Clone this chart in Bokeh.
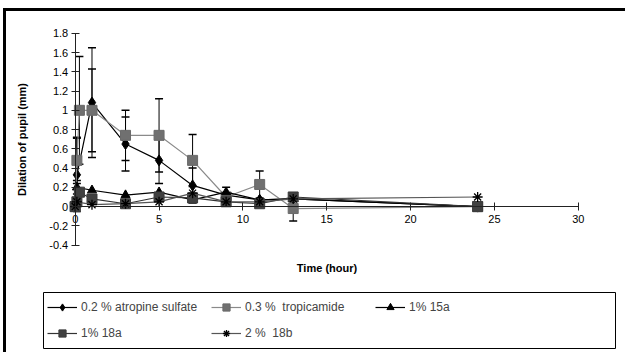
from bokeh.plotting import figure
from bokeh.models import (Whisker, TeeHead, ColumnDataSource, Legend, LegendItem,
                          FixedTicker, BoxAnnotation)
from bokeh.embed import file_html
from bokeh.resources import INLINE

# ---- data ----
t_main = [0, 0.1, 0.25, 1, 3, 5, 7, 9, 11, 13, 24]
t_short = [0, 0.1, 1, 3, 5, 7, 9, 11, 13, 24]

atropine = [0, 0.33, 1.08, 0.65, 0.48, 0.22, 0.12, 0.07, 0.08, 0.0]
atropine_err = [0, 0.38, 0.57, 0.28, 0.24, 0.18, 0, 0, 0, 0]

tropicamide = [0, 0.48, 1.0, 1.0, 0.74, 0.74, 0.48, 0.10, 0.23, -0.02, 0.0]
tropicamide_err = [0, 0.24, 0.56, 0.43, 0.26, 0.38, 0.27, 0, 0.14, 0.13, 0]

c15a = [0, 0.2, 0.17, 0.12, 0.15, 0.07, 0.15, 0.07, 0.08, 0.0]
c15a_err = [0, 0.07, 0, 0, 0, 0, 0.05, 0, 0, 0]

c18a = [0, 0.05, 0.15, 0.08, 0.03, 0.10, 0.09, 0.05, 0.03, 0.10, 0.0]
c18a_err = [0, 0, 0, 0, 0, 0, 0.05, 0, 0, 0, 0]

c18b = [0, 0.05, 0.02, 0.03, 0.05, 0.14, 0.05, 0.05, 0.08, 0.10]

labels = ["0.2 % atropine sulfate", "0.3 %  tropicamide", "1% 15a", "1% 18a", "2 %  18b"]

x_ticks = [0, 5, 10, 15, 20, 25, 30]
y_ticks = [-0.4, -0.2, 0, 0.2, 0.4, 0.6, 0.8, 1.0, 1.2, 1.4, 1.6, 1.8]
y_tick_labels = ["-0.4", "-0.2", "0", "0.2", "0.4", "0.6", "0.8", "1", "1.2", "1.4", "1.6", "1.8"]

FONT = "Liberation Sans"

# The frame covers nearly the whole canvas; axes sit at x=0 / y=0 with bounds.
p = figure(frame_width=608, frame_height=325, x_range=(-3.8, 32.46), y_range=(-1.515, 1.86),
           output_backend="svg", toolbar_location=None,
           min_border_left=5, min_border_top=16, min_border_right=6, min_border_bottom=0)
p.styles = {"border-left": "3px solid black", "border-top": "3px solid black",
            "margin-left": "3px", "margin-top": "8px"}
p.grid.visible = False
p.outline_line_color = None
p.background_fill_color = "white"

# axes
p.xaxis.fixed_location = 0
p.yaxis.fixed_location = 0
p.xaxis.bounds = (0, 30)
p.yaxis.bounds = (-0.4, 1.8)
p.xaxis.ticker = FixedTicker(ticks=x_ticks)
p.yaxis.ticker = FixedTicker(ticks=y_ticks)
p.yaxis.major_label_overrides = {v: s for v, s in zip(y_ticks, y_tick_labels)}
for ax in (p.xaxis[0], p.yaxis[0]):
    ax.major_tick_in = 4
    ax.major_tick_out = 4
    ax.minor_tick_line_color = None
    ax.axis_line_color = "#222222"
    ax.major_tick_line_color = "#222222"
    ax.major_label_text_font = FONT
    ax.major_label_text_font_size = "11px"
    ax.major_label_text_color = "black"
    ax.axis_label_text_font = FONT
    ax.axis_label_text_font_size = "11px"
    ax.axis_label_text_font_style = "bold"
    ax.axis_label_text_color = "black"
p.xaxis.major_label_standoff = 4
p.xaxis.axis_label = "Time (hour)"
p.xaxis.axis_label_standoff = 36
p.yaxis.axis_label = "Dilation of pupil (mm)"
p.yaxis.axis_label_standoff = 19
p.yaxis.major_label_standoff = 3


def add_err(t, y, e):
    tt, lo, up = [], [], []
    for a, b, c in zip(t, y, e):
        if c > 0:
            tt.append(a); lo.append(b - c); up.append(b + c)
    src = ColumnDataSource(dict(t=tt, lo=lo, up=up))
    w = Whisker(base="t", lower="lo", upper="up", source=src, line_color="black",
                line_width=1,
                upper_head=TeeHead(size=8, line_color="black", line_width=1.5),
                lower_head=TeeHead(size=8, line_color="black", line_width=1.5))
    p.add_layout(w)


items = []

# 0.2 % atropine sulfate
l1 = p.line(t_short, atropine, line_color="black", line_width=1.2)
s1 = p.scatter(t_short, atropine, marker="diamond", size=11, fill_color="black", line_color="black")
add_err(t_short, atropine, atropine_err)
items.append(LegendItem(label=labels[0], renderers=[l1, s1]))

# 0.3 % tropicamide
l2 = p.line(t_main, tropicamide, line_color="#8a8a8a", line_width=1.2)
s2 = p.scatter(t_main, tropicamide, marker="square", size=10, fill_color="#707070", line_color="#6a6a6a")
add_err(t_main, tropicamide, tropicamide_err)
items.append(LegendItem(label=labels[1], renderers=[l2, s2]))

# 1% 15a
l3 = p.line(t_short, c15a, line_color="black", line_width=1.2)
s3 = p.scatter(t_short, c15a, marker="triangle", size=9, fill_color="black", line_color="black")
add_err(t_short, c15a, c15a_err)
items.append(LegendItem(label=labels[2], renderers=[l3, s3]))

# 1% 18a
l4 = p.line(t_main, c18a, line_color="#333333", line_width=1.2)
s4 = p.scatter(t_main, c18a, marker="square", size=10, fill_color="#404040", line_color="#3a3a3a")
add_err(t_main, c18a, c18a_err)
items.append(LegendItem(label=labels[3], renderers=[l4, s4]))

# 2 % 18b
l5 = p.line(t_short, c18b, line_color="#555555", line_width=1.2)
s5 = p.scatter(t_short, c18b, marker="asterisk", size=10, line_color="black", line_width=1.3)
items.append(LegendItem(label=labels[4], renderers=[l5, s5]))

# legend frame (screen pixels, measured from the frame's bottom-left)
box = BoxAnnotation(left=32, right=604, top=60, bottom=4,
                    left_units="screen", right_units="screen",
                    top_units="screen", bottom_units="screen",
                    fill_alpha=0, line_color="black", line_width=1, line_alpha=1)
p.add_layout(box)

legend = Legend(items=items, orientation="horizontal", ncols=3, location=(36, 10),
                border_line_color=None,
                label_text_font=FONT, label_text_font_size="12px",
                glyph_width=30, glyph_height=18, label_width=122, label_height=18,
                spacing=8, padding=6, margin=0, label_standoff=4,
                background_fill_alpha=0)
p.add_layout(legend)

open("out.html", "w").write(file_html(p, INLINE))
